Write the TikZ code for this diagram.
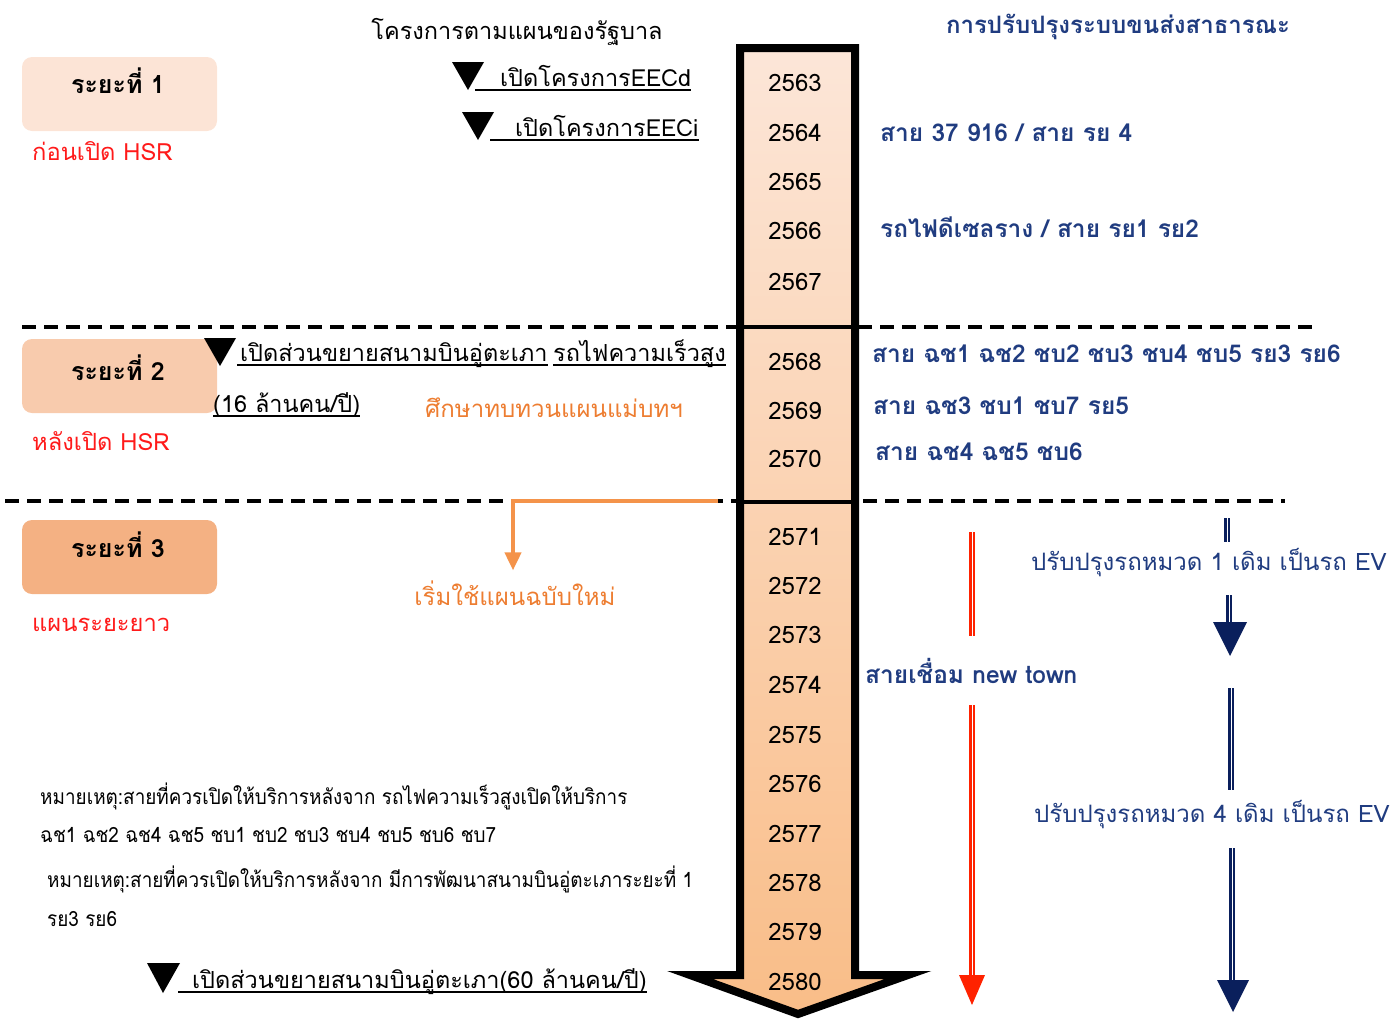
\documentclass[tikz,border=0pt]{standalone}
\usepackage{fontspec}
\setmainfont[Script=Thai]{Loma}
\newfontfamily\thnarrow[Script=Thai,FakeStretch=0.9]{Loma}
\usetikzlibrary{arrows.meta}
\definecolor{peachA}{HTML}{FCE4D6}
\definecolor{peachB}{HTML}{F8CBAD}
\definecolor{peachC}{HTML}{F4B183}
\definecolor{arrowtop}{HTML}{FCE6D8}
\definecolor{arrowbot}{HTML}{F9BD88}
\definecolor{navy}{HTML}{203C80}
\definecolor{navyline}{HTML}{0A1F5C}
\definecolor{redtxt}{HTML}{FF1A1A}
\definecolor{redline}{HTML}{FF2200}
\definecolor{orangetxt}{HTML}{ED7D31}
\definecolor{orangeline}{HTML}{F4934A}
\begin{document}
\begin{tikzpicture}[x=1pt,y=-1pt,
  yr/.style={font=\fontsize{24}{26}\selectfont, inner sep=0pt, anchor=center},
  bl/.style={text=navy, font=\bfseries\fontsize{24.5}{26}\selectfont, anchor=west, inner sep=0pt},
  blev/.style={text=navy, font=\fontsize{24}{26}\selectfont, anchor=west, inner sep=0pt},
  phasebox/.style={rounded corners=10pt, minimum width=195pt, minimum height=74pt, inner sep=0pt},
  phaselbl/.style={font=\bfseries\fontsize{25}{27}\selectfont, inner sep=0pt},
  redlbl/.style={text=redtxt, font=\fontsize{23.7}{25}\selectfont, anchor=west, inner sep=0pt},
  uline/.style={font=\fontsize{23.5}{25}\selectfont, anchor=base west, inner sep=0pt},
  note/.style={font=\thnarrow\fontsize{21}{23}\selectfont, anchor=west, inner sep=0pt},
  tri/.style={fill=black},
  dashsep/.style={line width=4pt, dash pattern=on 14pt off 8pt},
  dblred/.style={draw=redline, line width=2.5pt, double=white, double distance=1pt},
  dblnavy/.style={draw=navyline, line width=2.6pt, double=white, double distance=1pt},
]
\useasboundingbox (0,0) rectangle (1392,1023);

% headers
\node[font=\fontsize{23.5}{25}\selectfont, inner sep=0pt] (hgov) at (517,32) {โครงการตามแผนของรัฐบาล};
\node[font=\bfseries\fontsize{24}{26}\selectfont, text=navy, inner sep=0pt] (hpub) at (1118,27) {การปรับปรุงระบบขนส่งสาธารณะ};

% dashed separators
\draw[dashsep] (22,327) -- (1318,327);
\draw[dashsep] (5,501) -- (1285,501);

% phase boxes
\node[phasebox, fill=peachA] (box1) at (119.5,94) {};
\node[phasebox, fill=peachB] (box2) at (119.5,376) {};
\node[phasebox, fill=peachC] (box3) at (119.5,557) {};
\node[phaselbl] (p1) at (118,81) {ระยะที่ 1};
\node[phaselbl] (p2) at (118,368) {ระยะที่ 2};
\node[phaselbl] (p3) at (118,545) {ระยะที่ 3};
\node[redlbl] (r1) at (32,151) {ก่อนเปิด HSR};
\node[redlbl] (r2) at (32,441) {หลังเปิด HSR};
\node[redlbl] (r3) at (32,625) {แผนระยะยาว};

% big timeline arrow
\path[draw=black, line width=8pt, line join=miter, miter limit=10,
      top color=arrowtop, bottom color=arrowbot]
  (740,48) -- (855,48) -- (855,975) -- (908,975) -- (798,1014) -- (690,975) -- (740,975) -- cycle;
\draw[line width=4pt] (740,327) -- (855,327);
\draw[line width=4pt] (740,502) -- (855,502);

% years
\foreach \yy/\yv in {2563/83,2564/133,2565/182,2566/231,2567/282,2568/362,2569/411,2570/459,2571/537,2572/586,2573/635,2574/685,2575/735,2576/784,2577/834,2578/883,2579/932,2580/982}
  \node[yr] (y\yy) at (795,\yv) {\yy};

% government project markers
\fill[tri] (452,62) -- (484,62) -- (468,90) -- cycle;
\node[uline] (eecd) at (500,86) {เปิดโครงการEECd};
\draw[line width=1.3pt] ([xshift=-25pt,yshift=-4pt]eecd.base west) -- ([yshift=-4pt]eecd.base east);
\fill[tri] (462,112) -- (494,112) -- (478,140) -- cycle;
\node[uline] (eeci) at (515,136) {เปิดโครงการEECi};
\draw[line width=1.3pt] ([xshift=-25pt,yshift=-4pt]eeci.base west) -- ([yshift=-4pt]eeci.base east);

\fill[tri] (204,338) -- (236,338) -- (220,366) -- cycle;
\node[uline] (utp1) at (240,361) {เปิดส่วนขยายสนามบินอู่ตะเภา};
\draw[line width=1.3pt] ([xshift=-3pt,yshift=-4pt]utp1.base west) -- ([yshift=-4pt]utp1.base east);
\node[uline] (hsr) at (553,361) {รถไฟความเร็วสูง};
\draw[line width=1.3pt] ([yshift=-4pt]hsr.base west) -- ([yshift=-4pt]hsr.base east);
\node[uline] (cap16) at (213,412) {(16 ล้านคน/ปี)};
\draw[line width=1.3pt] ([yshift=-4pt]cap16.base west) -- ([yshift=-4pt]cap16.base east);
\node[font=\fontsize{24}{26}\selectfont, text=orangetxt, anchor=west, inner sep=0pt] (study) at (425,408) {ศึกษาทบทวนแผนแม่บทฯ};

% new plan connector
\coordinate (plstart) at (718,501);
\coordinate (plcorner) at (513,501);
\node[font=\fontsize{24}{26}\selectfont, text=orangetxt, inner sep=0pt] (newplan) at (515,593) {เริ่มใช้แผนฉบับใหม่};
\draw[orangeline, line width=4pt, -{Triangle[length=18pt,width=16pt]}]
  (plstart) -- (plcorner) -- ([yshift=10pt]newplan.north -| plcorner);

% bottom marker
\fill[tri] (147,963) -- (180,963) -- (163,993) -- cycle;
\node[uline] (utp2) at (192,988) {เปิดส่วนขยายสนามบินอู่ตะเภา(60 ล้านคน/ปี)};
\draw[line width=1.3pt] ([xshift=-14pt,yshift=-4pt]utp2.base west) -- ([yshift=-4pt]utp2.base east);

% notes
\node[note] (n1) at (40,796) {หมายเหตุ:สายที่ควรเปิดให้บริการหลังจาก รถไฟความเร็วสูงเปิดให้บริการ};
\node[note] (n2) at (40,835) {ฉช1 ฉช2 ฉช4 ฉช5 ชบ1 ชบ2 ชบ3 ชบ4 ชบ5 ชบ6 ชบ7};
\node[note] (n3) at (47,879) {หมายเหตุ:สายที่ควรเปิดให้บริการหลังจาก มีการพัฒนาสนามบินอู่ตะเภาระยะที่ 1};
\node[note] (n4) at (47,919) {รย3 รย6};

% right side texts
\node[bl] (l64) at (880,133) {สาย 37 916 / สาย รย 4};
\node[bl] (l66) at (880,227) {รถไฟดีเซลราง / สาย รย1 รย2};
\node[bl] (l68) at (872,354) {สาย ฉช1 ฉช2 ชบ2 ชบ3 ชบ4 ชบ5 รย3 รย6};
\node[bl] (l69) at (873,406) {สาย ฉช3 ชบ1 ชบ7 รย5};
\node[bl] (l70) at (875,452) {สาย ฉช4 ฉช5 ชบ6};
\node[bl] (lnt) at (865,671) {สายเชื่อม new town};
\node[blev] (ev1) at (1031,563) {ปรับปรุงรถหมวด 1 เดิม เป็นรถ EV};
\node[blev] (ev4) at (1034,815) {ปรับปรุงรถหมวด 4 เดิม เป็นรถ EV};

% red new-town arrow
\coordinate (ra1) at (972,532); \coordinate (ra2) at (972,636);
\coordinate (rb1) at (972,705); \coordinate (rb2) at (972,977);
\coordinate (rtip) at (972,1005);
\draw[dblred] (ra1) -- (ra2);
\draw[dblred] (rb1) -- (rb2);
\fill[redline] (959,975) -- (985,975) -- (rtip) -- cycle;

% navy EV arrows
\coordinate (na1) at (1227,518); \coordinate (na2) at (1227,542);
\coordinate (nb1) at (1229,595); \coordinate (nb2) at (1229,624);
\coordinate (nbt) at (1230,656);
\coordinate (nc1) at (1231,688); \coordinate (nc2) at (1231,790);
\coordinate (nd1) at (1232,848); \coordinate (nd2) at (1232,982);
\coordinate (ndt) at (1233,1012);
\draw[dblnavy] (na1) -- (na2);
\draw[dblnavy] (nb1) -- (nb2);
\fill[navyline] (1213,622) -- (1247,622) -- (nbt) -- cycle;
\draw[dblnavy] (nc1) -- (nc2);
\draw[dblnavy] (nd1) -- (nd2);
\fill[navyline] (1217,980) -- (1249,980) -- (ndt) -- cycle;
\end{tikzpicture}
\end{document}
